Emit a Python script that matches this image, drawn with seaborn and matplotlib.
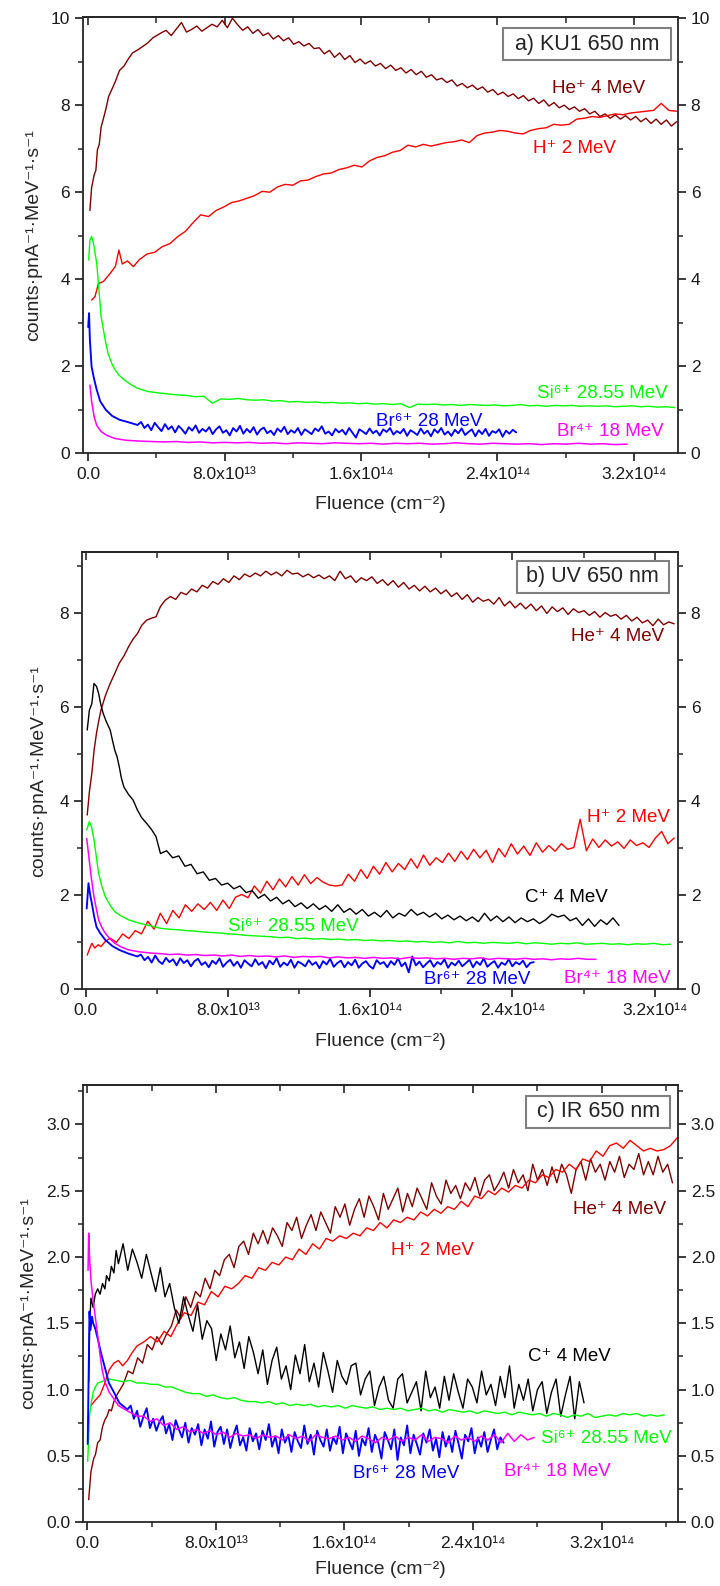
import numpy as np
import pandas as pd
import matplotlib
matplotlib.use("Agg")
import matplotlib.pyplot as plt
from matplotlib.patches import Rectangle
from matplotlib.ticker import MultipleLocator
import seaborn as sns

# ---------------- DATA (fluence in units of 1e13 cm^-2) ----------------
# Panel a) KU1 650 nm
a_he_hx = [0.1, 0.2, 0.35, 0.45, 0.54, 0.65, 0.76, 0.9, 1.03, 1.2, 1.43, 1.6, 1.84, 2.1, 2.38, 2.6, 2.9, 3.2, 3.46, 3.8, 4.27]
a_he_hy = [5.58, 6.1, 6.4, 6.5, 6.97, 7.1, 7.5, 7.7, 7.9, 8.2, 8.4, 8.55, 8.8, 8.9, 9.08, 9.2, 9.27, 9.35, 9.42, 9.55, 9.66]
a_he_end = 34.5
a_he_tail = [9.72, 9.60, 9.75, 9.90, 9.68, 9.74, 9.82, 9.70, 9.78, 9.86,
             9.80, 9.95, 9.78, 10.0, 9.85, 9.72, 9.80, 9.65, 9.74, 9.60,
             9.66, 9.52, 9.60, 9.48, 9.55, 9.40, 9.46, 9.36, 9.42, 9.30,
             9.32, 9.18, 9.26, 9.10, 9.20, 9.05, 9.14, 8.98, 9.06, 8.95,
             9.02, 8.90, 8.96, 8.84, 8.92, 8.80, 8.86, 8.74, 8.82, 8.70,
             8.78, 8.64, 8.70, 8.58, 8.62, 8.52, 8.58, 8.44, 8.50, 8.40,
             8.46, 8.36, 8.42, 8.30, 8.36, 8.24, 8.30, 8.20, 8.26, 8.15,
             8.22, 8.10, 8.16, 8.04, 8.12, 7.98, 8.06, 7.94, 8.00, 7.90,
             7.96, 7.86, 7.92, 7.80, 7.86, 7.74, 7.80, 7.70, 7.78, 7.68,
             7.76, 7.66, 7.74, 7.62, 7.70, 7.58, 7.68, 7.56, 7.66, 7.52, 7.62]

a_h_hx = [0.2, 0.4, 0.6, 0.9, 1.3, 1.6, 1.8, 2.0, 2.3, 2.65, 3.0]
a_h_hy = [3.52, 3.6, 3.9, 3.95, 4.14, 4.3, 4.67, 4.35, 4.42, 4.29, 4.45]
a_h_end = 34.5
a_h_tail = [4.58, 4.62, 4.75, 4.82, 4.98, 5.10, 5.30, 5.48, 5.44, 5.58,
            5.66, 5.76, 5.80, 5.86, 5.92, 6.02, 6.00, 6.12, 6.18, 6.16,
            6.26, 6.28, 6.36, 6.42, 6.44, 6.52, 6.56, 6.62, 6.58, 6.72,
            6.80, 6.84, 6.92, 6.96, 7.08, 7.04, 7.10, 7.06, 7.10, 7.14,
            7.16, 7.20, 7.14, 7.30, 7.36, 7.38, 7.42, 7.40, 7.36, 7.34,
            7.42, 7.46, 7.48, 7.56, 7.54, 7.56, 7.68, 7.70, 7.74, 7.72,
            7.76, 7.80, 7.78, 7.82, 7.84, 7.86, 7.88, 8.04, 7.88, 7.86]

a_si_hx = [0.03, 0.1, 0.2, 0.3, 0.5, 0.76, 1.0, 1.16, 1.4, 1.57, 1.8, 2.1, 2.5, 2.92, 3.5, 4.27]
a_si_hy = [4.44, 4.9, 4.98, 4.85, 4.37, 3.14, 2.6, 2.3, 2.05, 1.92, 1.80, 1.69, 1.58, 1.49, 1.42, 1.38]
a_si_end = 34.4
a_si_tail = [1.36, 1.34, 1.33, 1.30, 1.31, 1.15, 1.25, 1.24, 1.26, 1.23,
             1.22, 1.23, 1.20, 1.21, 1.18, 1.19, 1.17, 1.18, 1.16, 1.17,
             1.15, 1.16, 1.14, 1.15, 1.13, 1.14, 1.12, 1.14, 1.05, 1.13,
             1.12, 1.13, 1.11, 1.12, 1.10, 1.12, 1.11, 1.10, 1.11, 1.09,
             1.10, 1.12, 1.09, 1.10, 1.08, 1.10, 1.09, 1.10, 1.08, 1.09,
             1.08, 1.09, 1.07, 1.08, 1.09, 1.07, 1.08, 1.06, 1.07, 1.05]

a_br6_hx = [0.0, 0.05, 0.1, 0.2, 0.35, 0.5, 0.7, 1.03, 1.4, 1.84, 2.3, 2.9]
a_br6_hy = [2.9, 3.22, 2.6, 1.99, 1.7, 1.46, 1.2, 1.0, 0.86, 0.77, 0.72, 0.65]
a_br6_end = 25.1
a_br6_tail = [0.72, 0.58, 0.66, 0.53, 0.70, 0.60, 0.51, 0.67, 0.55, 0.62,
              0.48, 0.63, 0.55, 0.45, 0.60, 0.52, 0.64, 0.47, 0.56, 0.50,
              0.60, 0.44, 0.55, 0.62, 0.47, 0.53, 0.41, 0.58, 0.50, 0.63,
              0.45, 0.56, 0.48, 0.60, 0.43, 0.54, 0.59, 0.46, 0.52, 0.42,
              0.57, 0.49, 0.61, 0.44, 0.53, 0.47, 0.58, 0.42, 0.55, 0.50,
              0.44, 0.57, 0.51, 0.62, 0.45, 0.50, 0.41, 0.56, 0.48, 0.54,
              0.43, 0.58, 0.47, 0.36, 0.55, 0.50, 0.44, 0.57, 0.46, 0.52,
              0.41, 0.55, 0.49, 0.58, 0.43, 0.51, 0.46, 0.56, 0.40, 0.53,
              0.48, 0.42, 0.57, 0.45, 0.52, 0.39, 0.55, 0.47, 0.58, 0.43,
              0.50, 0.40, 0.54, 0.46, 0.57, 0.42, 0.49, 0.55, 0.39, 0.53,
              0.44, 0.56, 0.40, 0.51, 0.47, 0.55, 0.38, 0.52, 0.45, 0.54, 0.48]

a_br4_hx = [0.1, 0.2, 0.35, 0.5, 0.76, 1.1, 1.57, 2.2, 3.0]
a_br4_hy = [1.57, 1.2, 0.84, 0.64, 0.50, 0.41, 0.34, 0.30, 0.28]
a_br4_end = 31.6
a_br4_tail = [0.27, 0.26, 0.27, 0.25, 0.26, 0.24, 0.25, 0.24, 0.25, 0.23,
              0.24, 0.22, 0.24, 0.23, 0.22, 0.24, 0.23, 0.22, 0.23, 0.21,
              0.23, 0.22, 0.23, 0.21, 0.22, 0.24, 0.22, 0.21, 0.23, 0.22,
              0.21, 0.22, 0.20, 0.22, 0.21, 0.23, 0.21, 0.22, 0.20, 0.21]

# Panel b) UV 650 nm
b_he_hx = [0.08, 0.2, 0.34, 0.47, 0.6, 0.72, 0.85, 1.1, 1.37, 1.6, 1.88, 2.15, 2.4, 2.65, 2.9, 3.15, 3.43, 3.7, 3.95, 4.2, 4.46]
b_he_hy = [3.71, 4.2, 4.6, 5.1, 5.45, 5.7, 5.94, 6.25, 6.51, 6.7, 6.94, 7.1, 7.29, 7.45, 7.57, 7.75, 7.86, 7.9, 7.93, 8.15, 8.28]
b_he_end = 33.1
b_he_tail = [8.36, 8.30, 8.45, 8.40, 8.52, 8.46, 8.60, 8.54, 8.68, 8.62,
             8.74, 8.66, 8.80, 8.72, 8.84, 8.78, 8.86, 8.80, 8.90, 8.82,
             8.88, 8.80, 8.92, 8.84, 8.86, 8.78, 8.84, 8.76, 8.82, 8.74,
             8.80, 8.70, 8.90, 8.74, 8.80, 8.66, 8.76, 8.70, 8.78, 8.64,
             8.72, 8.60, 8.70, 8.56, 8.66, 8.52, 8.60, 8.48, 8.58, 8.46,
             8.54, 8.42, 8.50, 8.36, 8.44, 8.30, 8.40, 8.24, 8.34, 8.26,
             8.30, 8.20, 8.34, 8.16, 8.26, 8.12, 8.22, 8.10, 8.20, 8.06,
             8.16, 8.00, 8.14, 8.04, 8.12, 7.98, 8.10, 8.02, 8.06, 7.96,
             8.04, 7.92, 8.02, 7.94, 7.98, 7.88, 7.96, 7.84, 7.92, 7.80,
             7.86, 7.74, 7.88, 7.76, 7.82, 7.78]

b_h_hx = [0.08, 0.2, 0.34, 0.5, 0.7, 0.85, 1.1, 1.37]
b_h_hy = [0.73, 0.85, 0.98, 0.88, 0.95, 0.91, 1.02, 1.09]
b_h_end = 33.1
b_h_tail = [1.00, 1.18, 1.08, 1.25, 1.18, 1.45, 1.28, 1.62, 1.40, 1.68,
            1.52, 1.80, 1.66, 1.82, 1.70, 1.85, 1.68, 1.90, 1.72, 1.96,
            2.02, 1.95, 2.20, 2.05, 2.30, 2.12, 2.35, 2.18, 2.40, 2.22,
            2.44, 2.25, 2.38, 2.28, 2.22, 2.20, 2.22, 2.45, 2.30, 2.55,
            2.36, 2.62, 2.45, 2.70, 2.50, 2.68, 2.55, 2.78, 2.58, 2.86,
            2.64, 2.80, 2.70, 2.90, 2.72, 2.94, 2.76, 2.98, 2.80, 2.96,
            2.70, 3.00, 2.82, 3.10, 2.88, 3.05, 2.85, 3.12, 2.92, 3.06,
            2.94, 3.10, 2.98, 3.02, 3.62, 2.95, 3.20, 3.02, 3.18, 3.05,
            3.14, 3.00, 3.18, 3.06, 3.12, 3.02, 3.22, 3.36, 3.10, 3.22]

b_c_hx = [0.08, 0.2, 0.34, 0.46, 0.6, 0.72, 0.85, 0.98, 1.15, 1.37, 1.5, 1.63, 1.76, 1.88, 2.0, 2.14, 2.4, 2.66, 2.9, 3.15, 3.43, 3.7, 3.95, 4.2]
b_c_hy = [5.52, 5.94, 6.08, 6.51, 6.45, 6.3, 6.05, 5.87, 5.7, 5.52, 5.30, 5.09, 4.95, 4.74, 4.5, 4.31, 4.15, 4.03, 3.82, 3.65, 3.53, 3.40, 3.25, 2.89]
b_c_end = 30.0
b_c_tail = [2.95, 2.80, 2.84, 2.62, 2.66, 2.46, 2.50, 2.32, 2.36, 2.22,
            2.26, 2.14, 2.20, 2.06, 2.10, 1.94, 2.02, 1.88, 1.96, 1.82,
            1.90, 1.76, 1.84, 1.72, 1.82, 1.70, 1.78, 1.66, 1.80, 1.64,
            1.72, 1.60, 1.70, 1.56, 1.64, 1.54, 1.68, 1.52, 1.62, 1.56,
            1.70, 1.58, 1.64, 1.54, 1.62, 1.50, 1.58, 1.48, 1.56, 1.46,
            1.54, 1.44, 1.62, 1.46, 1.56, 1.44, 1.54, 1.42, 1.52, 1.44,
            1.50, 1.40, 1.48, 1.60, 1.54, 1.58, 1.46, 1.52, 1.36, 1.50,
            1.34, 1.48, 1.38, 1.52, 1.36]

b_si_hx = [0.05, 0.2, 0.33, 0.46, 0.6, 0.72, 0.9, 1.1, 1.35, 1.63, 2.0, 2.4, 2.9, 3.43, 4.2]
b_si_hy = [3.39, 3.57, 3.45, 3.18, 2.8, 2.47, 2.2, 1.97, 1.80, 1.65, 1.56, 1.48, 1.42, 1.37, 1.30]
b_si_end = 32.9
b_si_tail = [1.28, 1.27, 1.25, 1.24, 1.22, 1.21, 1.20, 1.18, 1.17, 1.15,
             1.14, 1.13, 1.12, 1.10, 1.11, 1.08, 1.09, 1.07, 1.08, 1.06,
             1.07, 1.05, 1.06, 1.04, 1.05, 1.03, 1.04, 1.02, 1.03, 1.01,
             1.02, 1.00, 1.01, 0.99, 1.02, 0.99, 1.00, 0.98, 1.00, 0.99,
             0.98, 1.00, 0.97, 0.99, 0.98, 0.96, 0.98, 0.97, 0.99, 0.96,
             0.97, 0.98, 0.96, 0.97, 0.95, 0.97, 0.96, 0.98, 0.95, 0.96]

b_br6_hx = [0.05, 0.15, 0.25, 0.34, 0.47, 0.6, 0.8, 1.1, 1.5, 1.88, 2.4, 2.9]
b_br6_hy = [1.72, 2.26, 2.0, 1.83, 1.55, 1.33, 1.2, 1.05, 0.92, 0.84, 0.76, 0.70]
b_br6_end = 25.2
b_br6_tail = [0.74, 0.62, 0.69, 0.57, 0.72, 0.60, 0.54, 0.67, 0.58, 0.64,
              0.51, 0.66, 0.56, 0.62, 0.49, 0.60, 0.65, 0.52, 0.58, 0.47,
              0.61, 0.54, 0.66, 0.48, 0.57, 0.63, 0.50, 0.59, 0.46, 0.62,
              0.55, 0.49, 0.64, 0.52, 0.58, 0.45, 0.61, 0.53, 0.66, 0.48,
              0.57, 0.51, 0.63, 0.46, 0.59, 0.55, 0.49, 0.62, 0.52, 0.58,
              0.45, 0.60, 0.53, 0.65, 0.48, 0.56, 0.61, 0.47, 0.58, 0.51,
              0.63, 0.46, 0.55, 0.60, 0.50, 0.44, 0.62, 0.54, 0.58, 0.47,
              0.60, 0.52, 0.66, 0.49, 0.57, 0.36, 0.70, 0.51, 0.59, 0.47,
              0.55, 0.62, 0.48, 0.58, 0.53, 0.64, 0.46, 0.57, 0.51, 0.61,
              0.49, 0.56, 0.63, 0.47, 0.59, 0.52, 0.66, 0.48, 0.55, 0.60,
              0.46, 0.57, 0.52, 0.64, 0.49, 0.58, 0.53, 0.61, 0.47, 0.56, 0.58]

b_br4_hx = [0.05, 0.15, 0.3, 0.46, 0.6, 0.72, 0.9, 1.1, 1.35, 1.63, 2.0, 2.4, 3.0, 3.7]
b_br4_hy = [3.21, 2.89, 2.4, 1.97, 1.7, 1.48, 1.32, 1.19, 1.08, 0.98, 0.90, 0.84, 0.80, 0.77]
b_br4_end = 28.7
b_br4_tail = [0.76, 0.74, 0.75, 0.73, 0.74, 0.72, 0.73, 0.71, 0.73, 0.70,
              0.72, 0.70, 0.71, 0.69, 0.71, 0.68, 0.70, 0.69, 0.70, 0.67,
              0.69, 0.67, 0.68, 0.66, 0.68, 0.66, 0.67, 0.65, 0.68, 0.66,
              0.67, 0.65, 0.66, 0.64, 0.66, 0.65, 0.67, 0.64, 0.66, 0.65,
              0.64, 0.66, 0.64, 0.65, 0.63, 0.65, 0.64, 0.66, 0.64, 0.64]

# Panel c) IR 650 nm
c_he_hx = [0.09, 0.23, 0.4, 0.51, 0.65, 0.8, 0.95, 1.09, 1.23, 1.37, 1.5, 1.66, 1.8, 1.94]
c_he_hy = [0.17, 0.38, 0.48, 0.51, 0.60, 0.62, 0.72, 0.77, 0.80, 0.85, 0.84, 0.91, 0.95, 0.98]
c_he_end = 36.4
c_he_tail = [1.04, 1.14, 1.12, 1.24, 1.20, 1.34, 1.30, 1.40, 1.34, 1.42,
             1.48, 1.60, 1.54, 1.70, 1.62, 1.74, 1.70, 1.84, 1.76, 1.90,
             1.86, 1.98, 2.02, 1.92, 2.08, 2.12, 2.02, 2.18, 2.10, 2.20,
             2.10, 2.22, 2.16, 2.08, 2.26, 2.20, 2.30, 2.14, 2.24, 2.32,
             2.20, 2.34, 2.26, 2.18, 2.38, 2.30, 2.40, 2.24, 2.36, 2.44,
             2.30, 2.46, 2.38, 2.28, 2.48, 2.36, 2.44, 2.52, 2.34, 2.48,
             2.38, 2.52, 2.44, 2.36, 2.56, 2.46, 2.40, 2.58, 2.48, 2.54,
             2.44, 2.56, 2.50, 2.60, 2.46, 2.58, 2.62, 2.50, 2.56, 2.64,
             2.52, 2.66, 2.56, 2.62, 2.50, 2.70, 2.58, 2.66, 2.54, 2.68,
             2.56, 2.70, 2.62, 2.48, 2.66, 2.72, 2.58, 2.74, 2.64, 2.70,
             2.58, 2.72, 2.64, 2.76, 2.60, 2.70, 2.66, 2.78, 2.62, 2.72,
             2.62, 2.76, 2.64, 2.70, 2.56]

c_h_hx = [0.23, 0.5, 0.8, 1.1, 1.37, 1.66, 1.94, 2.2, 2.5, 2.8, 3.1]
c_h_hy = [0.88, 0.92, 0.96, 1.05, 1.15, 1.20, 1.22, 1.18, 1.22, 1.28, 1.33]
c_h_end = 36.7
c_h_tail = [1.36, 1.40, 1.36, 1.44, 1.40, 1.50, 1.58, 1.56, 1.66, 1.64,
            1.74, 1.70, 1.78, 1.76, 1.80, 1.86, 1.84, 1.92, 1.90, 1.96,
            1.94, 2.00, 1.98, 2.06, 2.02, 2.10, 2.06, 2.14, 2.12, 2.16,
            2.14, 2.18, 2.16, 2.22, 2.20, 2.26, 2.22, 2.28, 2.26, 2.30,
            2.28, 2.34, 2.31, 2.36, 2.33, 2.38, 2.36, 2.42, 2.38, 2.46,
            2.44, 2.50, 2.47, 2.52, 2.49, 2.54, 2.52, 2.58, 2.56, 2.62,
            2.60, 2.66, 2.64, 2.70, 2.66, 2.74, 2.72, 2.80, 2.76, 2.84,
            2.86, 2.82, 2.88, 2.84, 2.80, 2.82, 2.80, 2.81, 2.84, 2.90]

c_c_hx = [0.09, 0.15, 0.23, 0.37, 0.5, 0.65, 0.8, 0.95, 1.1, 1.2, 1.37, 1.5, 1.66, 1.8, 1.94]
c_c_hy = [1.06, 1.48, 1.69, 1.62, 1.72, 1.76, 1.72, 1.80, 1.76, 1.86, 1.82, 1.93, 1.88, 2.05, 1.95]
c_c_end = 30.9
c_c_tail = [2.10, 1.90, 2.06, 1.96, 1.84, 2.02, 1.88, 1.74, 1.92, 1.70,
            1.80, 1.62, 1.50, 1.70, 1.56, 1.44, 1.64, 1.38, 1.52, 1.46,
            1.22, 1.42, 1.30, 1.48, 1.24, 1.36, 1.16, 1.40, 1.28, 1.12,
            1.30, 1.04, 1.22, 1.32, 1.08, 1.18, 1.00, 1.26, 1.12, 1.34,
            1.06, 1.20, 1.02, 1.28, 1.14, 0.98, 1.22, 1.10, 1.04, 1.18,
            1.20, 0.96, 1.08, 1.14, 0.88, 1.02, 1.10, 0.92, 0.86, 1.08,
            1.12, 0.90, 0.98, 1.06, 0.84, 1.14, 0.94, 1.02, 0.86, 1.10,
            0.92, 1.12, 0.98, 0.86, 1.08, 1.02, 0.90, 1.14, 0.96, 1.04,
            0.88, 1.10, 0.94, 1.18, 0.86, 1.04, 0.92, 1.08, 0.84, 1.00,
            1.06, 0.82, 0.98, 1.08, 0.80, 0.96, 1.10, 0.78, 1.06, 0.90]

c_si_hx = [0.03, 0.14, 0.25, 0.37, 0.5, 0.66, 0.9, 1.1, 1.37]
c_si_hy = [0.46, 0.80, 0.90, 0.98, 1.02, 1.05, 1.06, 1.07, 1.08]
c_si_end = 35.9
c_si_tail = [1.07, 1.06, 1.07, 1.05, 1.05, 1.04, 1.04, 1.02, 1.02, 1.00,
             0.98, 0.97, 0.97, 0.95, 0.96, 0.94, 0.93, 0.94, 0.92, 0.91,
             0.91, 0.90, 0.91, 0.89, 0.90, 0.88, 0.89, 0.88, 0.89, 0.87,
             0.88, 0.87, 0.88, 0.86, 0.88, 0.87, 0.86, 0.87, 0.85, 0.86,
             0.85, 0.86, 0.84, 0.85, 0.86, 0.84, 0.85, 0.83, 0.85, 0.84,
             0.83, 0.84, 0.82, 0.84, 0.83, 0.82, 0.83, 0.81, 0.83, 0.82,
             0.81, 0.82, 0.80, 0.82, 0.81, 0.79, 0.81, 0.80, 0.82, 0.79,
             0.80, 0.81, 0.80, 0.82, 0.81, 0.82, 0.80, 0.81, 0.80, 0.81]

c_br6_hx = [0.03, 0.1, 0.14, 0.2, 0.3, 0.37, 0.5, 0.66, 0.85, 1.09, 1.35, 1.66, 2.0, 2.5]
c_br6_hy = [0.59, 1.2, 1.59, 1.45, 1.55, 1.50, 1.46, 1.38, 1.28, 1.17, 1.05, 0.98, 0.90, 0.85]
c_br6_end = 25.9
c_br6_tail = [0.88, 0.78, 0.84, 0.72, 0.80, 0.86, 0.71, 0.78, 0.69, 0.76,
              0.80, 0.67, 0.74, 0.62, 0.77, 0.70, 0.64, 0.75, 0.60, 0.71,
              0.66, 0.74, 0.58, 0.70, 0.63, 0.76, 0.57, 0.68, 0.72, 0.59,
              0.70, 0.56, 0.66, 0.73, 0.58, 0.64, 0.54, 0.71, 0.61, 0.67,
              0.55, 0.69, 0.62, 0.74, 0.57, 0.65, 0.52, 0.70, 0.60, 0.66,
              0.53, 0.68, 0.61, 0.56, 0.73, 0.59, 0.66, 0.51, 0.69, 0.62,
              0.57, 0.70, 0.54, 0.64, 0.59, 0.72, 0.52, 0.67, 0.61, 0.55,
              0.69, 0.50, 0.63, 0.58, 0.71, 0.53, 0.66, 0.60, 0.48, 0.68,
              0.62, 0.55, 0.70, 0.47, 0.64, 0.58, 0.73, 0.52, 0.66, 0.59,
              0.51, 0.67, 0.60, 0.70, 0.54, 0.63, 0.49, 0.68, 0.57, 0.65,
              0.53, 0.69, 0.59, 0.48, 0.66, 0.61, 0.71, 0.52, 0.64, 0.57,
              0.68, 0.53, 0.62, 0.70, 0.55, 0.64, 0.60]

c_br4_hx = [0.05, 0.09, 0.15, 0.25, 0.37, 0.5, 0.66, 0.8, 0.94, 1.1, 1.37, 1.66, 1.94, 2.5, 3.1]
c_br4_hy = [1.90, 2.18, 1.98, 1.80, 1.67, 1.55, 1.40, 1.26, 1.14, 1.06, 0.98, 0.93, 0.88, 0.84, 0.80]
c_br4_end = 27.8
c_br4_tail = [0.80, 0.76, 0.78, 0.73, 0.75, 0.70, 0.72, 0.68, 0.70, 0.67,
              0.69, 0.66, 0.68, 0.64, 0.67, 0.65, 0.66, 0.63, 0.66, 0.64,
              0.65, 0.62, 0.66, 0.63, 0.65, 0.61, 0.66, 0.64, 0.63, 0.65,
              0.62, 0.64, 0.61, 0.65, 0.63, 0.60, 0.64, 0.62, 0.65, 0.61,
              0.64, 0.62, 0.66, 0.61, 0.64, 0.63, 0.60, 0.65, 0.62, 0.64,
              0.61, 0.65, 0.62, 0.66, 0.60, 0.67, 0.61, 0.66, 0.62, 0.64]

series_names = ["He", "H", "C", "Si", "Br6", "Br4"]
series_colors = {"He": "#800000", "H": "#FF0000", "C": "#000000",
                 "Si": "#00FF00", "Br6": "#0000FF", "Br4": "#FF00FF"}
series_widths = {"He": 1.0, "H": 1.0, "C": 1.0, "Si": 1.0, "Br6": 1.35, "Br4": 1.1}
label_text = {"He": "He⁺ 4 MeV", "H": "H⁺ 2 MeV", "C": "C⁺ 4 MeV",
              "Si": "Si⁶⁺ 28.55 MeV", "Br6": "Br⁶⁺ 28 MeV", "Br4": "Br⁴⁺ 18 MeV"}
panel_titles = ["a) KU1 650 nm", "b) UV 650 nm", "c) IR 650 nm"]
x_tick_vals = [0, 8, 16, 24, 32]
x_tick_labels = ["0.0", "8.0x10¹³", "1.6x10¹⁴", "2.4x10¹⁴", "3.2x10¹⁴"]
x_label = "Fluence (cm⁻²)"
y_label = "counts·pnA⁻¹·MeV⁻¹·s⁻¹"

# label positions (data coords, left edge / vertical centre)
a_label_pos = {"He": (27.2, 8.39), "H": (26.1, 7.01), "Si": (26.3, 1.38), "Br6": (16.9, 0.73), "Br4": (27.5, 0.50)}
b_label_pos = {"He": (27.3, 7.50), "H": (28.2, 3.65), "C": (24.7, 1.95), "Si": (8.0, 1.33), "Br6": (19.0, 0.21), "Br4": (26.9, 0.23)}
c_label_pos = {"He": (30.2, 2.36), "H": (18.9, 2.05), "C": (27.4, 1.25), "Si": (28.2, 0.63), "Br6": (16.5, 0.37), "Br4": (25.9, 0.38)}


def build(hx, hy, end, tail):
    tx = np.linspace(hx[-1], end, len(tail) + 1)[1:]
    return np.concatenate([hx, tx]), np.concatenate([hy, tail])


def frame(parts):
    rows = []
    for name, (hx, hy, end, tail) in parts.items():
        x, y = build(hx, hy, end, tail)
        rows.append(pd.DataFrame({"fluence": x, "counts": y, "series": name}))
    return pd.concat(rows, ignore_index=True)


df_a = frame({"He": (a_he_hx, a_he_hy, a_he_end, a_he_tail),
              "H": (a_h_hx, a_h_hy, a_h_end, a_h_tail),
              "Si": (a_si_hx, a_si_hy, a_si_end, a_si_tail),
              "Br6": (a_br6_hx, a_br6_hy, a_br6_end, a_br6_tail),
              "Br4": (a_br4_hx, a_br4_hy, a_br4_end, a_br4_tail)})
df_b = frame({"He": (b_he_hx, b_he_hy, b_he_end, b_he_tail),
              "H": (b_h_hx, b_h_hy, b_h_end, b_h_tail),
              "C": (b_c_hx, b_c_hy, b_c_end, b_c_tail),
              "Si": (b_si_hx, b_si_hy, b_si_end, b_si_tail),
              "Br6": (b_br6_hx, b_br6_hy, b_br6_end, b_br6_tail),
              "Br4": (b_br4_hx, b_br4_hy, b_br4_end, b_br4_tail)})
df_c = frame({"He": (c_he_hx, c_he_hy, c_he_end, c_he_tail),
              "H": (c_h_hx, c_h_hy, c_h_end, c_h_tail),
              "C": (c_c_hx, c_c_hy, c_c_end, c_c_tail),
              "Si": (c_si_hx, c_si_hy, c_si_end, c_si_tail),
              "Br6": (c_br6_hx, c_br6_hy, c_br6_end, c_br6_tail),
              "Br4": (c_br4_hx, c_br4_hy, c_br4_end, c_br4_tail)})

# ---------------- STYLE ----------------
sns.set_style("ticks")
plt.rcParams["font.family"] = ["Liberation Sans", "DejaVu Sans"]
plt.rcParams["axes.linewidth"] = 1.3

fig = plt.figure(figsize=(7.2, 15.86), dpi=100)
fig.patch.set_facecolor("white")

axes_rects = [[0.1149, 0.7142, 0.8271, 0.2749],
              [0.1135, 0.3762, 0.8285, 0.2755],
              [0.1149, 0.0402, 0.8271, 0.2759]]
xlims = [(-0.32, 34.6), (-0.23, 33.33), (-0.28, 36.76)]
ylims = [(0, 10.02), (0, 9.30), (0, 3.30)]
y_major_ticks = [[0, 2, 4, 6, 8, 10], [0, 2, 4, 6, 8], [0.0, 0.5, 1.0, 1.5, 2.0, 2.5, 3.0]]
y_minor = [1, 1, 0.25]
yfmt = ["{:.0f}", "{:.0f}", "{:.1f}"]
xlabel_y = [-0.099, -0.101, -0.088]
ylabel_x = [-0.068, -0.058, -0.077]
box_rects = [(0.705, 0.902, 0.283, 0.073), (0.729, 0.908, 0.255, 0.073), (0.745, 0.901, 0.241, 0.074)]
dfs = [df_a, df_b, df_c]
label_positions = [a_label_pos, b_label_pos, c_label_pos]

for i in range(3):
    ax = fig.add_axes(axes_rects[i])
    df = dfs[i]
    present = [s for s in series_names if s in df["series"].unique()]
    sns.lineplot(data=df, x="fluence", y="counts", hue="series", hue_order=present,
                 palette=series_colors, size="series", size_order=present,
                 sizes=series_widths, estimator=None, sort=False, legend=False, ax=ax)
    ax.set_xlim(*xlims[i])
    ax.set_ylim(*ylims[i])
    ax.set_xticks(x_tick_vals)
    ax.set_xticklabels(x_tick_labels)
    ax.xaxis.set_minor_locator(MultipleLocator(4))
    ax.set_yticks(y_major_ticks[i])
    ax.set_yticklabels([yfmt[i].format(v) for v in y_major_ticks[i]])
    ax.yaxis.set_minor_locator(MultipleLocator(y_minor[i]))
    ax.set_ylim(*ylims[i])
    ax.tick_params(axis="both", which="major", direction="out", length=6, width=1.2,
                   labelsize=12.5, colors="#1a1a1a")
    ax.tick_params(axis="both", which="minor", direction="out", length=3.5, width=1.1)
    ax.tick_params(axis="y", which="both", right=True, labelright=True, left=True, pad=3)
    ax.tick_params(axis="x", which="both", top=False, pad=4)
    top = ax.secondary_xaxis("top")
    top.set_xticks(x_tick_vals)
    top.xaxis.set_minor_locator(MultipleLocator(4))
    top.tick_params(axis="x", which="major", direction="in", length=6, width=1.2, labeltop=False)
    top.tick_params(axis="x", which="minor", direction="in", length=4, width=1.1)
    top.spines["top"].set_linewidth(1.3)
    ax.set_xlabel(x_label, fontsize=14)
    ax.set_ylabel(y_label, fontsize=14)
    ax.xaxis.set_label_coords(0.5, xlabel_y[i])
    ax.yaxis.set_label_coords(ylabel_x[i], 0.5)
    for s, (lx, ly) in label_positions[i].items():
        ax.text(lx, ly, label_text[s], color=series_colors[s], fontsize=13.5,
                ha="left", va="center")
    bx, by, bw, bh = box_rects[i]
    ax.add_patch(Rectangle((bx, by), bw, bh, transform=ax.transAxes, facecolor="white",
                           edgecolor="#808080", linewidth=1.5, zorder=5))
    ax.text(bx + bw / 2, by + bh / 2, panel_titles[i], transform=ax.transAxes,
            fontsize=15.5, ha="center", va="center", zorder=6)

fig.savefig("out.png", dpi=100, facecolor="white")
